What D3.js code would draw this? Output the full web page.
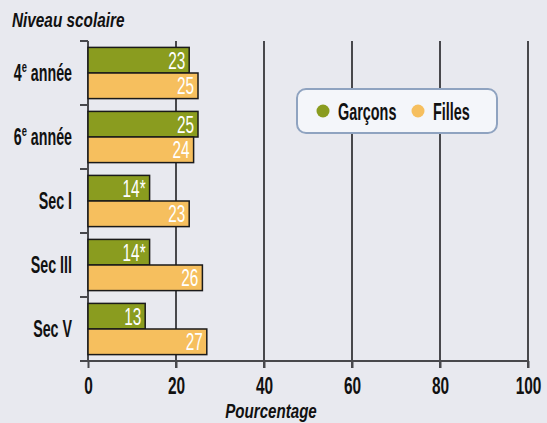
<!DOCTYPE html>
<html><head><meta charset="utf-8">
<script src="https://cdn.jsdelivr.net/npm/d3@7"></script>
<style>
html,body{margin:0;padding:0;background:#e8e9ef;}
svg{display:block;}
text{font-family:"Liberation Sans",Arial,sans-serif;font-weight:bold;}
</style></head>
<body>
<svg id="c" width="547" height="423"></svg>
<script>
const categories = ["4e année","6e année","Sec I","Sec III","Sec V"];
const garcons = [23,25,14,14,13];
const filles = [25,24,23,26,27];
const garconsLabels = ["23","25","14*","14*","13"];
const fillesLabels = ["25","24","23","26","27"];
const xTicks = [0,20,40,60,80,100];
const seriesNames = ["Garçons","Filles"];

const colors = {g:"#8a9c1f", f:"#f6bf5e", grid:"#48484c"};
const svg = d3.select("#c");
svg.append("rect").attr("width",547).attr("height",423).attr("fill","#e8e9ef");

const x = d3.scaleLinear().domain([0,100]).range([88,528]);
const y = d3.scaleBand().domain(categories).range([41,361]).paddingInner(0).paddingOuter(0);
const sub = d3.scaleBand().domain(["g","f"]).range([0,y.bandwidth()]).paddingInner(0).paddingOuter(0.25);

// condensed text helper
function ctext(parent, X, Y, s, size){
  return parent.append("g").attr("transform",`translate(${X},${Y}) scale(${s},1)`)
    .append("text").attr("x",0).attr("y",0).style("font-size",size+"px");
}

// grid
svg.append("g").selectAll("line").data(xTicks.slice(1)).join("line")
  .attr("x1",d=>x(d)).attr("x2",d=>x(d)).attr("y1",41).attr("y2",368)
  .attr("stroke",colors.grid).attr("stroke-width",2);

// x axis
const xAxis = svg.append("g").attr("transform","translate(0,361)")
  .call(d3.axisBottom(x).tickValues(xTicks).tickSize(7).tickPadding(0));
xAxis.select(".domain").remove();
xAxis.selectAll(".tick line").attr("stroke",colors.grid).attr("stroke-width",2);
xAxis.selectAll(".tick text").attr("fill","#111").attr("y",33).attr("dy",null)
  .attr("transform","scale(0.63,1)")
  .style("font-size","24.5px").style("font-family","'Liberation Sans',Arial,sans-serif").style("font-weight","bold");
svg.append("line").attr("x1",80).attr("x2",x(100)).attr("y1",361).attr("y2",361)
  .attr("stroke",colors.grid).attr("stroke-width",2);

// y axis
svg.append("line").attr("x1",88).attr("x2",88).attr("y1",41).attr("y2",361)
  .attr("stroke",colors.grid).attr("stroke-width",2);
const bounds = categories.map(c=>y(c)).concat([y.range()[1]]);
svg.append("g").selectAll("line").data(bounds).join("line")
  .attr("x1",80).attr("x2",88).attr("y1",d=>d).attr("y2",d=>d)
  .attr("stroke",colors.grid).attr("stroke-width",2);

// bars
const rows = categories.map((c,i)=>({c, g:garcons[i], f:filles[i], gl:garconsLabels[i], fl:fillesLabels[i]}));
const barG = svg.append("g");
rows.forEach(d=>{
  const g = barG.append("g").attr("transform",`translate(0,${y(d.c)})`);
  ["g","f"].forEach(k=>{
    g.append("rect").attr("x",x(0)).attr("y",sub(k)).attr("width",x(d[k])-x(0)).attr("height",sub.bandwidth())
      .attr("fill",colors[k]).attr("stroke","#1a1a1a").attr("stroke-width",1.5);
    ctext(g, x(d[k])-4, sub(k)+sub.bandwidth()/2+8.5, 0.64, 24)
      .attr("text-anchor","end").attr("fill","#fff").style("font-weight","normal").text(d[k+"l"]);
  });
});

// category labels
categories.forEach(d=>{
  const t = ctext(svg, 72, y(d)+y.bandwidth()/2+8, 0.62, 23).attr("text-anchor","end").attr("fill","#111");
  const m = d.match(/^(\d)e (.*)$/);
  if(m){
    t.append("tspan").text(m[1]);
    t.append("tspan").text("e").style("font-size","15px").attr("dy","-9");
    t.append("tspan").text(" "+m[2]).attr("dy","9");
  } else t.text(d);
});

// titles
ctext(svg, 12, 27, 0.73, 21).attr("fill","#111").style("font-style","italic").text("Niveau scolaire");
ctext(svg, 271, 418, 0.72, 21).attr("text-anchor","middle").attr("fill","#111").style("font-style","italic").text("Pourcentage");

// legend
const lg = svg.append("g");
lg.append("rect").attr("x",297).attr("y",89).attr("width",200).attr("height",44).attr("rx",9)
  .attr("fill","#f4f6fa").attr("stroke","#8fa3c0").attr("stroke-width",2);
const lx = [323,418];
seriesNames.forEach((n,i)=>{
  lg.append("circle").attr("cx",lx[i]).attr("cy",111).attr("r",6.5).attr("fill",i?colors.f:colors.g);
  ctext(lg, lx[i]+15, 119.5, 0.6, 24).attr("fill","#111").text(n);
});
</script>
</body></html>
